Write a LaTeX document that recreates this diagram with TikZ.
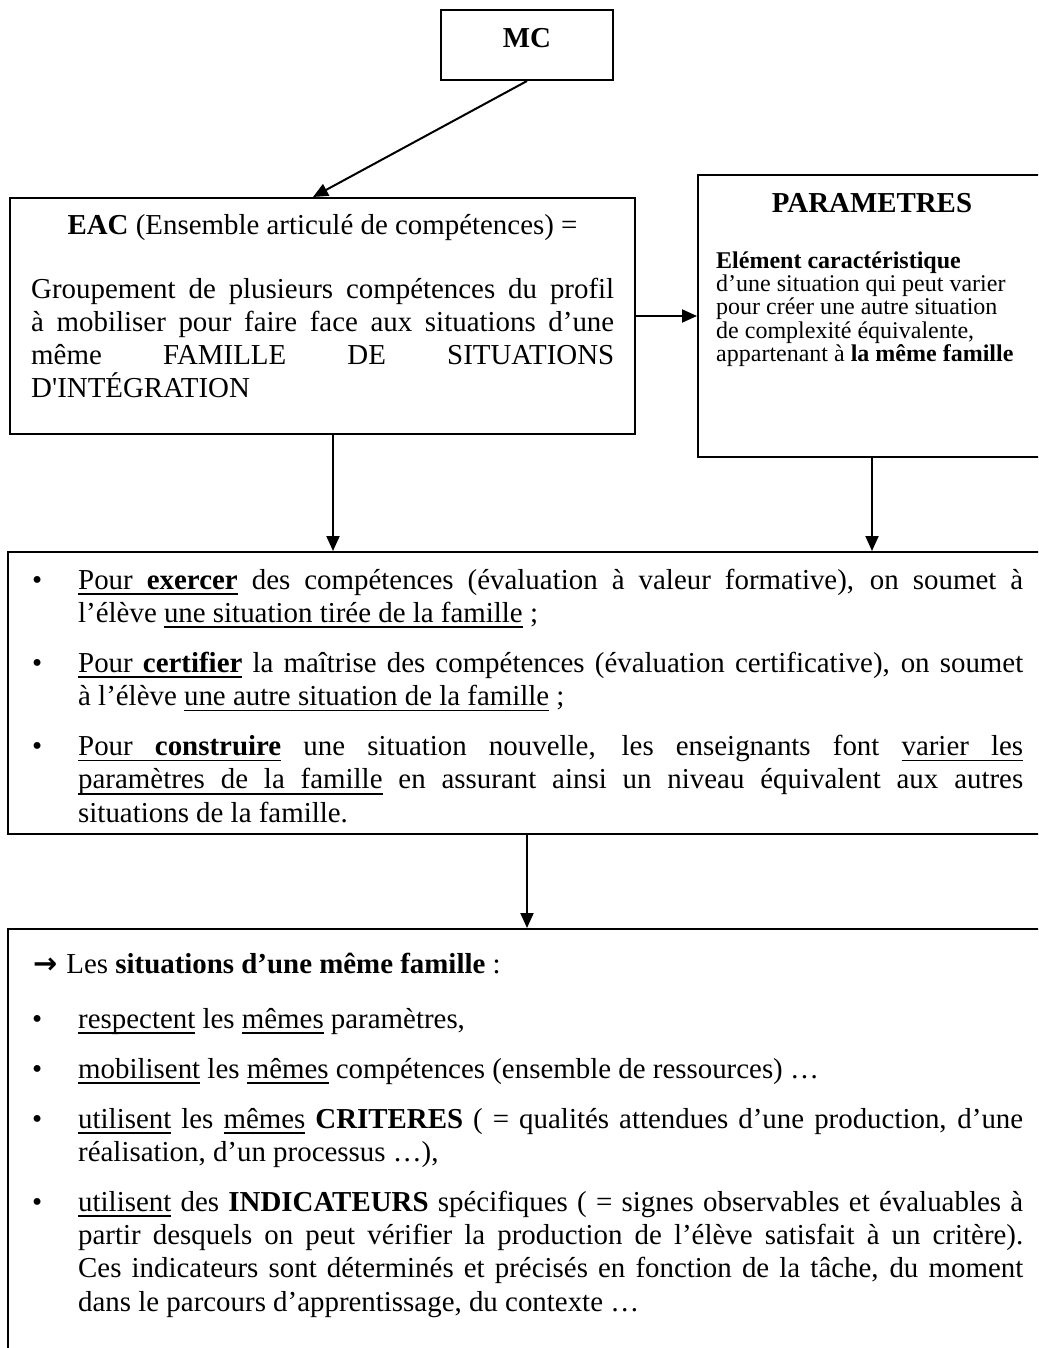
\documentclass[tikz,border=0pt]{standalone}
\usepackage{fontspec}
\setmainfont{Liberation Serif}
\newfontfamily{\symfont}{DejaVu Sans}
\usetikzlibrary{arrows.meta}
% font sizes of the chart
\newcommand{\bodysize}{\fontsize{28.9pt}{33.3pt}\selectfont}
\newcommand{\smallsize}{\fontsize{24pt}{23.4pt}\selectfont}
% underlined word, and underlined stretchable interword space
\newcommand{\ulw}[1]{\setbox0\hbox{#1}\rlap{\rule[-5.8pt]{\wd0}{1.8pt}}\box0\relax}
\newcommand{\uls}{\leaders\hrule height -4pt depth 5.8pt\hskip\fontdimen2\font plus\fontdimen3\font minus\fontdimen4\font\relax}
% bullet hung in the left margin of a paragraph
\newcommand{\itm}{\noindent\llap{\makebox[46pt][l]{•}}}
\begin{document}
\begin{tikzpicture}[x=1pt,y=-1pt,
  box/.style={draw, line width=2pt, rectangle, inner sep=0pt},
  conn/.style={line width=2pt, -{Triangle[length=15pt,width=13pt]}},
  txt/.style={inner sep=0pt, font=\bodysize},
  para/.style={inner sep=0pt, anchor=base west, align=justify, font=\bodysize},
]
\useasboundingbox (0,0) rectangle (1038,1348);
\clip (0,0) rectangle (1038,1348);

% frames
\node[box, minimum width=172pt, minimum height=70pt]  (mc)  at (527,45)    {};
\node[box, minimum width=625pt, minimum height=236pt] (eac) at (322.5,316) {};
\node[box, minimum width=348pt, minimum height=282pt] (par) at (872,316)   {};
\node[box, minimum width=1038pt, minimum height=282pt] (bul) at (527,693)  {};
\node[box, minimum width=1038pt, minimum height=440pt] (fam) at (527,1149) {};

% connectors
\draw[conn] (mc.south) -- ([xshift=-9.5pt]eac.north);
\draw[conn] (eac.east) -- (par.west);
\draw[conn] ([xshift=10.5pt]eac.south) -- ([xshift=10.5pt]eac.south |- bul.north);
\draw[conn] (par.south) -- (par.south |- bul.north);
\draw[conn] (bul.south) -- (fam.north);

% MC
\node[txt, anchor=base] (mctext) at (527,48) {\textbf{MC}};

% EAC
\node[txt, anchor=base] (eactitle) at (322.5,235)
  {\textbf{EAC} (Ensemble articulé de compétences) =};
\node[para, text width=583pt] (eacbody) at (31,298) {%
Groupement de plusieurs compétences du profil\linebreak
à mobiliser pour faire face aux situations d’une\linebreak
même FAMILLE DE SITUATIONS\linebreak
D\textquotesingle INTÉGRATION};

% PARAMETRES (multi-line node: its base is the last line)
\node[txt, anchor=base] (partitle) at (872,213) {\textbf{PARAMETRES}};
\node[inner sep=0pt, anchor=base west, align=left, font=\smallsize] (parbody) at (716,361.6) {%
\textbf{Elément caractéristique}\\
d’une situation qui peut varier\\
pour créer une autre situation\\
de complexité équivalente,\\
appartenant à \textbf{la même famille}};

% uses of the family
\node[para, text width=945pt] (bultext) at (78,589) {%
\setlength{\parskip}{16.7pt}\setlength{\parindent}{0pt}%
\itm\ulw{Pour}\uls\ulw{\textbf{exercer}} des compétences (évaluation à valeur formative), on soumet à\linebreak
l’élève \ulw{une situation tirée de la famille}~;\par
\itm\ulw{Pour}\uls\ulw{\textbf{certifier}} la maîtrise des compétences (évaluation certificative), on soumet\linebreak
à l’élève \ulw{une autre situation de la famille}~;\par
\itm\ulw{Pour}\uls\ulw{\textbf{construire}} une situation nouvelle, les enseignants font \ulw{varier}\uls\ulw{les}\linebreak
\ulw{paramètres}\uls\ulw{de}\uls\ulw{la}\uls\ulw{famille} en assurant ainsi un niveau équivalent aux autres\linebreak
situations de la famille.};

% situations of one family
\node[txt, anchor=base west] (famhead) at (33,973)
  {{\symfont\bfseries →}\hspace{9pt}Les \textbf{situations d’une même famille} :};
\node[para, text width=945pt] (famtext) at (78,1028) {%
\setlength{\parskip}{16.7pt}\setlength{\parindent}{0pt}%
\itm\ulw{respectent} les \ulw{mêmes} paramètres,\par
\itm\ulw{mobilisent} les \ulw{mêmes} compétences (ensemble de ressources) …\par
\itm\ulw{utilisent} les \ulw{mêmes} \textbf{CRITERES} ( = qualités attendues d’une production, d’une\linebreak
réalisation, d’un processus …),\par
\itm\ulw{utilisent} des \textbf{INDICATEURS} spécifiques ( = signes observables et évaluables à\linebreak
partir desquels on peut vérifier la production de l’élève satisfait à un critère).\linebreak
Ces indicateurs sont déterminés et précisés en fonction de la tâche, du moment\linebreak
dans le parcours d’apprentissage, du contexte …};
\end{tikzpicture}
\end{document}
